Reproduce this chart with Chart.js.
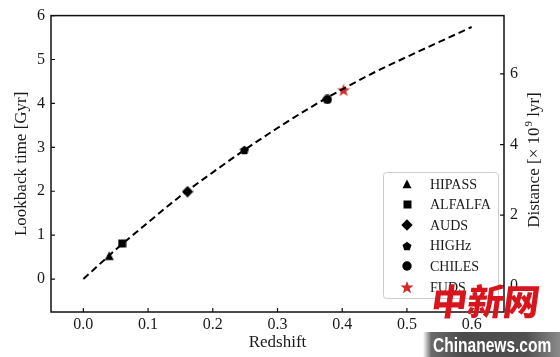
<!DOCTYPE html>
<html><head><meta charset="utf-8">
<script src="https://cdn.jsdelivr.net/npm/chart.js@4/dist/chart.umd.min.js"></script>
<style>
html,body{margin:0;padding:0;background:#fff;}
#wrap{position:relative;width:560px;height:357px;overflow:hidden;}
#c{position:absolute;left:0;top:0;}
#wm1{position:absolute;left:432px;top:281px;font-family:"Noto Sans CJK SC";font-weight:900;font-size:36px;line-height:36px;color:#d8141c;transform:skewX(-8deg);white-space:nowrap;}
#wm2{position:absolute;left:423px;top:332px;width:137px;height:25px;background:linear-gradient(to right,rgba(90,90,90,0) 0%,#6a6a6a 6%,#4a4a4a 30%,#505050 75%,#8a8a8a 100%);overflow:hidden;}
#wm2 span{position:absolute;left:10px;top:0;display:block;color:#fff;font-family:"Liberation Sans";font-weight:bold;font-size:21px;line-height:25px;transform:scaleX(0.74);transform-origin:0 50%;white-space:nowrap;}
</style></head>
<body>
<div id="wrap">
<canvas id="c" width="560" height="357"></canvas>
<div id="wm1">中新网</div>
<div id="wm2"><span>Chinanews.com</span></div>
</div>
<script>
// ---- data ----
const curveZ = [0, 0.05, 0.1, 0.15, 0.2, 0.25, 0.3, 0.35, 0.4, 0.45, 0.5, 0.55, 0.6];
const curveT = [0, 0.67, 1.29, 1.89, 2.43, 2.95, 3.44, 3.90, 4.32, 4.71, 5.06, 5.40, 5.74];
const surveyNames = ['HIPASS', 'ALFALFA', 'AUDS', 'HIGHz', 'CHILES', 'FUDS'];
const surveyZ = [0.040, 0.060, 0.161, 0.249, 0.377, 0.402];
const surveyT = [0.53, 0.81, 1.99, 2.94, 4.09, 4.31];
const xTicks = [0.0, 0.1, 0.2, 0.3, 0.4, 0.5, 0.6];
const yTicks = [0, 1, 2, 3, 4, 5, 6];
const distTicks = [0, 2, 4, 6];

// ---- marker images ----
function mk(size, fill, fn){
  const c = document.createElement('canvas');
  c.width = size; c.height = size;
  const g = c.getContext('2d');
  g.fillStyle = fill;
  g.beginPath(); fn(g, size/2, size); g.closePath(); g.fill();
  return c;
}
function poly(g, cx, cy, r, n, rot){
  for(let i=0;i<n;i++){const a=rot+i*2*Math.PI/n; const x=cx+r*Math.cos(a), y=cy+r*Math.sin(a); i?g.lineTo(x,y):g.moveTo(x,y);}
}
function star(g, cx, cy, R, r){
  for(let i=0;i<10;i++){const a=-Math.PI/2+i*Math.PI/5; const rr=i%2?r:R; const x=cx+rr*Math.cos(a), y=cy+rr*Math.sin(a); i?g.lineTo(x,y):g.moveTo(x,y);}
}
function markerSet(s){
  return [
    mk(Math.round(10*s), '#000', (g,h,S)=>{g.moveTo(h,0.5); g.lineTo(S-0.5,S-0.8); g.lineTo(0.5,S-0.8);}),
    mk(Math.round(9*s), '#000', (g,h,S)=>{g.rect(0.5,0.5,S-1,S-1);}),
    mk(Math.round(12*s), '#000', (g,h,S)=>{g.moveTo(h,0.3); g.lineTo(S-0.3,h); g.lineTo(h,S-0.3); g.lineTo(0.3,h);}),
    mk(Math.round(10*s), '#000', (g,h,S)=>{poly(g,h,h+0.5,h-0.3,5,-Math.PI/2);}),
    mk(Math.round(10*s), '#000', (g,h,S)=>{g.arc(h,h,h-0.3,0,2*Math.PI);}),
    mk(Math.round(14*s), '#d62728', (g,h,S)=>{star(g,h,h+0.7,h-0.2,(h-0.2)*0.42);})
  ];
}
const plotMarkers = markerSet(1);
const legendMarkers = markerSet(1);

const serif = '"Liberation Serif", "Times New Roman", serif';
const txt = '#1a1a1a';

const datasets = [{
  type: 'line',
  data: curveZ.map((z, i) => ({x: z, y: curveT[i]})),
  borderColor: '#000', borderWidth: 2, borderDash: [7, 4],
  pointRadius: 0, cubicInterpolationMode: 'monotone', fill: false, yAxisID: 'y'
}];
surveyNames.forEach((n, i) => {
  datasets.push({
    label: n, type: 'scatter', yAxisID: 'y',
    data: [{x: surveyZ[i], y: surveyT[i]}],
    pointStyle: plotMarkers[i], pointRadius: 6
  });
});

const framePlugin = {
  id: 'frame',
  afterDraw(chart){
    const {ctx, chartArea: a, scales} = chart;
    ctx.save();
    // frame
    ctx.strokeStyle = '#111'; ctx.lineWidth = 1.5;
    ctx.strokeRect(a.left, a.top, a.right - a.left, a.bottom - a.top);
    // inward ticks
    const L = 4;
    ctx.lineWidth = 1.2;
    ctx.beginPath();
    scales.x.ticks.forEach(t => {const p = scales.x.getPixelForValue(t.value); ctx.moveTo(p, a.bottom); ctx.lineTo(p, a.bottom - L);});
    scales.y.ticks.forEach(t => {const p = scales.y.getPixelForValue(t.value); ctx.moveTo(a.left, p); ctx.lineTo(a.left + L, p);});
    scales.y2.ticks.forEach(t => {const p = scales.y2.getPixelForValue(t.value); ctx.moveTo(a.right, p); ctx.lineTo(a.right - L, p);});
    ctx.stroke();

    // right axis title (reads bottom to top)
    ctx.save();
    ctx.translate(535, 160);
    ctx.rotate(-Math.PI/2);
    ctx.fillStyle = txt;
    ctx.textBaseline = 'middle';
    const big = '17px ' + serif, small = '11px ' + serif;
    const p1 = 'Distance [\u00d7 10', sup = '9', p2 = ' lyr]';
    ctx.font = big; const w1 = ctx.measureText(p1).width, w3 = ctx.measureText(p2).width;
    ctx.font = small; const w2 = ctx.measureText(sup).width;
    let x0 = -(w1 + w2 + 1 + w3)/2;
    ctx.font = big; ctx.textAlign = 'left';
    ctx.fillText(p1, x0, 0);
    ctx.font = small; ctx.fillText(sup, x0 + w1 + 1, -6);
    ctx.font = big; ctx.fillText(p2, x0 + w1 + 1 + w2, 0);
    ctx.restore();

    // legend
    const bx = 383, by = 172, bw = 115, bh = 126;
    ctx.fillStyle = 'rgba(255,255,255,0.85)';
    ctx.strokeStyle = '#cccccc'; ctx.lineWidth = 1;
    ctx.beginPath();
    if (ctx.roundRect) ctx.roundRect(bx + 0.5, by + 0.5, bw, bh, 3); else ctx.rect(bx + 0.5, by + 0.5, bw, bh);
    ctx.fill(); ctx.stroke();
    ctx.font = '14px ' + serif; ctx.textBaseline = 'middle'; ctx.textAlign = 'left';
    surveyNames.forEach((n, i) => {
      const y = by + 12 + i * 20.6;
      const m = legendMarkers[i];
      ctx.drawImage(m, Math.round(407 - m.width/2), Math.round(y - m.height/2));
      ctx.fillStyle = txt;
      ctx.fillText(n, 430, y + 1);
    });
    ctx.restore();
  }
};

const tickFont = {family: serif, size: 16};
new Chart(document.getElementById('c'), {
  type: 'scatter',
  data: {datasets},
  options: {
    responsive: false, animation: false,
    layout: {padding: {top: 12, left: 0, right: 0, bottom: 0}},
    plugins: {legend: {display: false}, tooltip: {enabled: false}},
    scales: {
      x: {
        type: 'linear', min: -0.05, max: 0.65,
        afterBuildTicks: s => { s.ticks = xTicks.map(v => ({value: v})); },
        afterFit: s => { s.height = 45; },
        ticks: {font: tickFont, color: txt, padding: 3, maxRotation: 0, autoSkip: false, callback: v => Number(v).toFixed(1)},
        grid: {display: false, drawTicks: false}, border: {display: false},
        title: {display: true, text: 'Redshift', color: txt, font: {family: serif, size: 17}, padding: {top: 0, bottom: 4}}
      },
      y: {
        type: 'linear', position: 'left', min: -0.75, max: 6,
        afterBuildTicks: s => { s.ticks = yTicks.map(v => ({value: v})); },
        afterFit: s => { s.width = 51; },
        ticks: {font: tickFont, color: txt, padding: 6, autoSkip: false},
        grid: {display: false, drawTicks: false}, border: {display: false},
        title: {display: true, text: 'Lookback time [Gyr]', color: txt, font: {family: serif, size: 17}, padding: {top: 11, bottom: 0}}
      },
      y2: {
        type: 'linear', position: 'right', min: -0.74, max: 7.65,
        afterBuildTicks: s => { s.ticks = distTicks.map(v => ({value: v})); },
        afterFit: s => { s.width = 56; },
        ticks: {font: tickFont, color: txt, padding: 6, autoSkip: false},
        grid: {display: false, drawTicks: false}, border: {display: false}
      }
    }
  },
  plugins: [framePlugin]
});
</script>
</body></html>
